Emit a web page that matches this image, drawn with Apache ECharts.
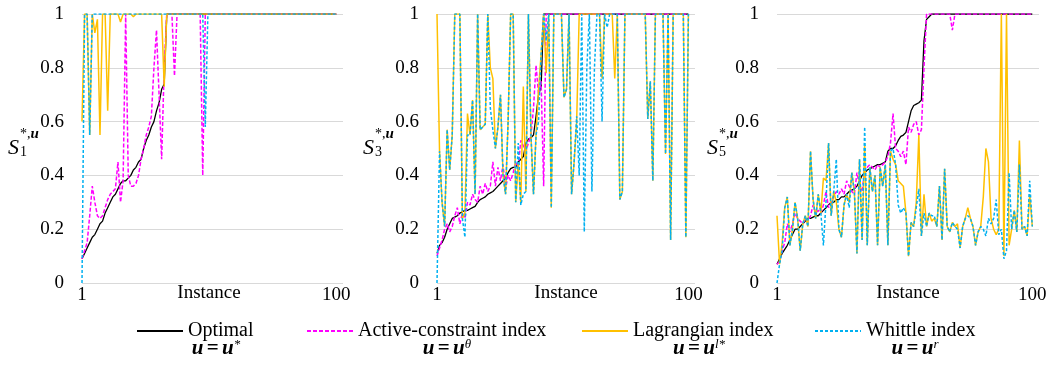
<!DOCTYPE html>
<html>
<head>
<meta charset="utf-8">
<script src="https://cdn.jsdelivr.net/npm/echarts@6/dist/echarts.min.js"></script>
<style>html,body{margin:0;padding:0;background:#fff}#c{width:1056px;height:365px}</style>
</head>
<body>
<div id="c"></div>
<script>
// ---------- DATA ----------
const seriesNames = ['Optimal', 'Active-constraint index', 'Lagrangian index', 'Whittle index'];
const instances = Array.from({length: 100}, (_, i) => i + 1);
const xTickLabels = [1, 100];
const xAxisTitle = 'Instance';
const panelSubscripts = ['1', '3', '5'];
const policyLabels = ['*', 'θ', 'l*', 'r'];

// Panel 1 (S1)
const optimal1 = [
 0.09,0.11,0.13,0.15,0.17,0.18,0.20,0.22,0.23,0.26,
 0.28,0.30,0.32,0.33,0.35,0.37,0.38,0.38,0.39,0.40,
 0.42,0.43,0.45,0.46,0.50,0.53,0.55,0.58,0.60,0.64,
 0.67,0.72,0.74,1,1,1,1,1,1,1,
 1,1,1,1,1,1,1,1,1,1,
 1,1,1,1,1,1,1,1,1,1,
 1,1,1,1,1,1,1,1,1,1,
 1,1,1,1,1,1,1,1,1,1,
 1,1,1,1,1,1,1,1,1,1,
 1,1,1,1,1,1,1,1,1,1];
const active1 = [
 0.09,0.12,0.15,0.25,0.36,0.30,0.25,0.24,0.25,0.28,
 0.31,0.33,0.34,0.35,0.45,0.30,0.38,1,0.40,0.36,
 0.36,0.37,0.40,0.46,0.50,0.55,0.58,0.62,0.80,0.94,
 0.70,0.46,0.80,1,1,1,0.77,1,1,1,
 1,1,1,1,1,1,1,0.40,1,1,
 1,1,1,1,1,1,1,1,1,1,
 1,1,1,1,1,1,1,1,1,1,
 1,1,1,1,1,1,1,1,1,1,
 1,1,1,1,1,1,1,1,1,1,
 1,1,1,1,1,1,1,1,1,1];
const lagrangian1 = [
 0.60,1,1,0.55,1,0.93,0.98,0.55,1,1,
 0.64,1,1,1,1,0.97,1,1,1,1,
 0.99,1,1,1,1,1,1,1,1,1,
 1,1,0.73,1,1,1,1,1,1,1,
 1,1,1,1,1,1,1,1,1,1,
 1,1,1,1,1,1,1,1,1,1,
 1,1,1,1,1,1,1,1,1,1,
 1,1,1,1,1,1,1,1,1,1,
 1,1,1,1,1,1,1,1,1,1,
 1,1,1,1,1,1,1,1,1,1];
const whittle1 = [
 0,1,1,0.55,1,1,1,1,1,1,
 1,1,1,1,1,1,1,1,1,1,
 1,1,1,1,1,1,1,1,1,1,
 1,1,1,1,1,1,1,1,1,1,
 1,1,1,1,1,1,1,1,0.58,1,
 1,1,1,1,1,1,1,1,1,1,
 1,1,1,1,1,1,1,1,1,1,
 1,1,1,1,1,1,1,1,1,1,
 1,1,1,1,1,1,1,1,1,1,
 1,1,1,1,1,1,1,1,1,1];

// Panel 2 (S3)
const optimal2 = [
 0.11,0.14,0.15,0.17,0.20,0.22,0.24,0.245,0.25,0.26,
 0.265,0.27,0.27,0.275,0.28,0.285,0.30,0.31,0.315,0.32,
 0.33,0.335,0.34,0.35,0.36,0.37,0.38,0.39,0.41,0.425,
 0.43,0.43,0.45,0.46,0.47,0.52,0.535,0.54,0.55,0.62,
 0.70,0.73,1,1,1,1,1,1,1,1,
 1,1,1,1,1,1,1,1,1,1,
 1,1,1,1,1,1,1,1,1,1,
 1,1,1,1,1,1,1,1,1,1,
 1,1,1,1,1,1,1,1,1,1,
 1,1,1,1,1,1,1,1,1,1];
const active2 = [
 0.10,0.13,0.16,0.20,0.22,0.19,0.21,0.25,0.28,0.22,
 0.26,0.24,0.30,0.29,0.33,0.31,0.30,0.36,0.33,0.37,
 0.34,0.36,0.45,0.36,0.43,0.38,0.44,0.35,0.40,0.38,
 0.41,0.45,0.43,0.53,0.51,0.49,0.52,0.55,0.65,0.81,
 0.70,0.75,0.36,1,1,1,1,1,1,1,
 1,1,1,1,1,1,1,1,1,1,
 1,1,1,1,1,1,1,1,1,1,
 1,1,1,1,1,1,1,1,1,1,
 1,1,1,1,1,1,1,1,1,1,
 1,1,1,1,1,1,1,1,1,1];
const lagrangian2 = [
 1,0.49,0.30,0.21,0.57,0.42,0.55,1,1,1,
 0.24,0.26,0.63,0.55,0.68,0.33,1,0.57,0.58,0.59,
 1,0.80,0.76,0.50,0.58,0.70,0.40,0.33,0.60,1,
 1,0.30,0.45,0.30,0.73,0.34,1,0.55,0.33,0.55,
 0.72,0.85,1,0.78,1,0.28,1,1,1,1,
 0.69,0.72,1,0.33,0.45,0.60,1,1,1,1,
 1,1,1,1,1,0.76,1,1,1,1,
 0.76,1,0.31,0.34,1,1,1,1,1,1,
 1,1,1,0.61,0.75,0.38,1,1,1,1,
 0.48,1,0.16,1,1,1,1,1,0.17,1];
const whittle2 = [
 0,0.49,0.30,0.21,0.57,0.42,0.55,1,1,1,
 0.24,0.17,0.55,0.55,0.68,0.33,1,0.57,0.58,0.59,
 1,0.65,0.57,0.50,0.58,0.70,0.40,0.33,0.60,1,
 1,0.30,0.52,0.29,0.33,0.34,1,0.55,0.33,0.55,
 0.60,0.85,1,0.90,1,0.28,1,1,1,1,
 0.69,0.72,1,0.33,0.45,0.62,0.40,1,0.19,0.80,
 1,0.34,0.80,1,1,0.60,1,0.95,1,1,
 1,1,0.31,0.34,1,1,1,1,1,1,
 1,1,1,0.61,0.75,0.38,1,1,1,1,
 0.48,1,0.16,1,1,1,1,1,0.17,1];

// Panel 3 (S5)
const optimal3 = [
 0.07,0.09,0.11,0.125,0.14,0.16,0.18,0.20,0.20,0.21,
 0.22,0.23,0.24,0.24,0.245,0.25,0.25,0.26,0.27,0.28,
 0.29,0.30,0.30,0.31,0.31,0.32,0.32,0.33,0.34,0.345,
 0.35,0.36,0.38,0.40,0.41,0.42,0.425,0.43,0.435,0.44,
 0.44,0.445,0.45,0.49,0.50,0.50,0.51,0.53,0.545,0.55,
 0.56,0.60,0.64,0.66,0.665,0.67,0.68,0.90,0.98,0.99,
 1,1,1,1,1,1,1,1,1,1,
 1,1,1,1,1,1,1,1,1,1,
 1,1,1,1,1,1,1,1,1,1,
 1,1,1,1,1,1,1,1,1,1];
const active3 = [
 0.07,0.08,0.12,0.15,0.22,0.19,0.22,0.26,0.24,0.23,
 0.22,0.24,0.23,0.25,0.29,0.26,0.27,0.26,0.29,0.34,
 0.28,0.30,0.32,0.34,0.33,0.35,0.33,0.38,0.36,0.34,
 0.33,0.41,0.36,0.34,0.42,0.43,0.44,0.43,0.42,0.44,
 0.43,0.44,0.45,0.47,0.52,0.63,0.50,0.49,0.47,0.49,
 0.44,0.58,0.56,0.59,0.60,0.55,0.57,0.80,1,1,
 1,1,1,1,1,1,1,1,0.94,1,
 1,1,1,1,1,1,1,1,1,1,
 1,1,1,1,1,1,1,1,1,1,
 1,1,1,1,1,1,1,1,1,1];
const lagrangian3 = [
 0.25,0.07,0.15,0.28,0.32,0.14,0.20,0.30,0.24,0.12,
 0.22,0.25,0.21,0.49,0.31,0.24,0.33,0.26,0.39,0.38,
 0.52,0.25,0.34,0.30,0.20,0.17,0.29,0.33,0.30,0.41,
 0.34,0.11,0.46,0.16,0.51,0.14,0.43,0.34,0.40,0.14,
 0.43,0.36,0.44,0.14,0.49,0.46,0.44,0.38,0.37,0.36,
 0.26,0.10,0.225,0.21,0.30,0.55,0.175,0.33,0.21,0.26,
 0.23,0.24,0.21,0.36,0.16,0.425,0.21,0.19,0.225,0.21,
 0.22,0.13,0.21,0.24,0.28,0.24,0.21,0.14,0.19,0.21,
 0.32,0.50,0.45,0.24,0.20,0.18,0.20,1,0.10,1,
 0.14,0.20,0.27,0.19,0.53,0.20,0.21,0.175,0.33,0.21];
const whittle3 = [
 0,0.07,0.12,0.28,0.32,0.14,0.20,0.30,0.24,0.12,
 0.22,0.25,0.21,0.49,0.31,0.24,0.33,0.26,0.14,0.30,
 0.52,0.25,0.34,0.46,0.20,0.17,0.29,0.33,0.28,0.41,
 0.34,0.11,0.46,0.16,0.58,0.14,0.43,0.34,0.40,0.14,
 0.43,0.36,0.44,0.14,0.49,0.50,0.44,0.29,0.26,0.28,
 0.26,0.10,0.225,0.21,0.28,0.35,0.175,0.26,0.21,0.26,
 0.25,0.25,0.21,0.36,0.16,0.425,0.21,0.19,0.225,0.21,
 0.20,0.13,0.21,0.24,0.25,0.24,0.21,0.14,0.19,0.21,
 0.20,0.175,0.24,0.22,0.24,0.31,0.18,0.20,0.09,0.12,
 0.41,0.20,0.27,0.19,0.44,0.20,0.21,0.175,0.38,0.21];

const panels = [
  [optimal1, active1, lagrangian1, whittle1],
  [optimal2, active2, lagrangian2, whittle2],
  [optimal3, active3, lagrangian3, whittle3]
];

// ---------- STYLE / LAYOUT ----------
const FONT = '"Liberation Serif", "Times New Roman", serif';
const gridBoxes = [
  {left: 82, width: 261},
  {left: 437, width: 258},
  {left: 777, width: 262}
];
const xMax = 102.6;
const lineStyles = [
  {color: '#000000', width: 1.3, type: 'solid'},
  {color: '#FF00FF', width: 1.5, type: [4, 2]},
  {color: '#FFC000', width: 1.5, type: 'solid'},
  {color: '#00B0F0', width: 1.5, type: [3, 2]}
];

const grids = gridBoxes.map(g => ({left: g.left, width: g.width, top: 14, height: 269, containLabel: false}));
const xAxes = gridBoxes.map((g, i) => ({
  type: 'value', gridIndex: i, min: 1, max: xMax, interval: 1,
  axisLine: {show: false}, axisTick: {show: false}, splitLine: {show: false},
  axisLabel: {
    margin: 3, fontFamily: FONT, fontSize: 19, color: '#000', showMaxLabel: false,
    formatter: v => (xTickLabels.indexOf(Math.round(v * 1000) / 1000) >= 0 ? String(v) : '')
  }
}));
const yAxes = gridBoxes.map((g, i) => ({
  type: 'value', gridIndex: i, min: 0, max: 1, interval: 0.2,
  axisLine: {show: false}, axisTick: {show: false},
  splitLine: {show: true, lineStyle: {color: '#D9D9D9', width: 1}},
  axisLabel: {margin: 18, fontFamily: FONT, fontSize: 19, color: '#000'}
}));

const series = [];
panels.forEach((arrs, p) => {
  arrs.forEach((arr, s) => {
    series.push({
      type: 'line', name: seriesNames[s], xAxisIndex: p, yAxisIndex: p,
      data: instances.map((x, i) => [x, arr[i]]),
      symbol: 'none', showSymbol: false, animation: false,
      lineStyle: lineStyles[s], itemStyle: {color: lineStyles[s].color}
    });
  });
});

const graphics = [];
// x-axis titles
const instanceCenters = [209, 566, 908];
instanceCenters.forEach(cx => {
  graphics.push({type: 'text', x: cx, y: 293,
    style: {text: xAxisTitle, font: '19px ' + FONT, fill: '#000', align: 'center', verticalAlign: 'middle'}});
});
// y-axis name graphics (S_k^{*,u})
const yNamePos = [8, 363, 707];
yNamePos.forEach((px, i) => {
  graphics.push({type: 'text', left: px, top: 137,
    style: {text: 'S', font: 'italic 22px ' + FONT, fill: '#000'}});
  graphics.push({type: 'text', left: px + 12, top: 127,
    style: {text: '{a|*,}{b|u}', rich: {
      a: {fontFamily: FONT, fontSize: 14, fill: '#000'},
      b: {fontFamily: FONT, fontSize: 15, fontWeight: 'bold', fontStyle: 'italic', fill: '#000'}}}});
  graphics.push({type: 'text', left: px + 12, top: 145,
    style: {text: panelSubscripts[i], font: '14px ' + FONT, fill: '#000'}});
});
// legend second row: u = u^x
const mathCenters = [216, 447, 699, 915];
mathCenters.forEach((cx, i) => {
  graphics.push({type: 'text', x: cx, y: 349,
    style: {text: '{b|u} {n|=} {b|u}{s|' + policyLabels[i] + '}', align: 'center', verticalAlign: 'middle',
      rich: {
        b: {fontFamily: FONT, fontSize: 21, fontWeight: 'bold', fontStyle: 'italic', fill: '#000'},
        n: {fontFamily: FONT, fontSize: 21, fontWeight: 'bold', fill: '#000'},
        s: {fontFamily: FONT, fontSize: 13, fontStyle: 'italic', fill: '#000', verticalAlign: 'top', padding: [0, 0, 8, 0]}
      }}});
});

// one legend per item, placed like the reference
const legendLefts = [131, 301, 576, 809];
const legends = seriesNames.map((nm, i) => ({
  data: [nm], left: legendLefts[i], top: 316, itemWidth: 46, itemHeight: 14, itemGap: 5,
  selectedMode: false,
  itemStyle: {opacity: 0, color: 'transparent', borderWidth: 0},
  textStyle: {fontFamily: FONT, fontSize: 20, color: '#000'}
}));

const chart = echarts.init(document.getElementById('c'), null, {renderer: 'canvas'});
chart.setOption({
  animation: false,
  backgroundColor: '#fff',
  grid: grids,
  xAxis: xAxes,
  yAxis: yAxes,
  legend: legends,
  graphic: graphics,
  series: series
});
</script>
</body>
</html>
